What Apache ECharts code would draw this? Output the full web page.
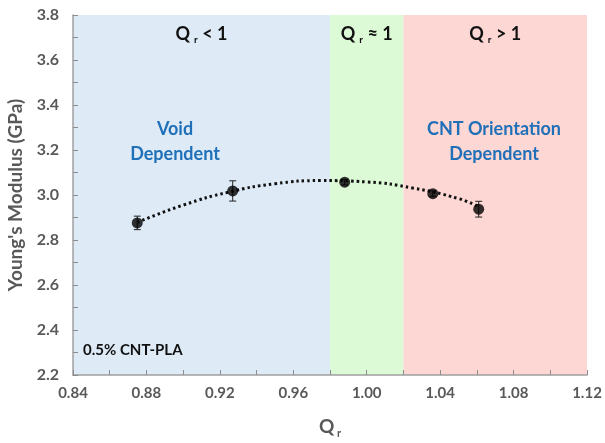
<!DOCTYPE html>
<html>
<head>
<meta charset="utf-8">
<script src="https://cdn.jsdelivr.net/npm/echarts@6/dist/echarts.min.js"></script>
<style>
  html, body { margin: 0; padding: 0; background: #fff; }
  #chart { width: 605px; height: 443px; }
</style>
</head>
<body>
<div id="chart"></div>
<script>
// measured points
const qr = [0.875, 0.927, 0.988, 1.036, 1.061];
const modulus = [2.876, 3.018, 3.057, 3.006, 2.937];
const errs = [0.03, 0.045, 0.012, 0.012, 0.035];

// dotted trend line
const trendX = [0.875, 0.90, 0.925, 0.95, 0.975, 1.00, 1.025, 1.05, 1.061];
const trendY = [2.878, 2.955, 3.013, 3.050, 3.064, 3.058, 3.031, 2.984, 2.948];

// regions along Qr
const regionEdges = [0.84, 0.98, 1.02, 1.12];
const regionColors = ['#deebf7', '#ddfad6', '#fdd7d3'];
const regionLabels = ['<', '≈', '>'];

const font = 'Lato, "Open Sans", sans-serif';
const chart = echarts.init(document.getElementById('chart'));

const regions = regionColors.map((c, i) => [
  { xAxis: regionEdges[i], itemStyle: { color: c } },
  { xAxis: regionEdges[i + 1] }
]);

chart.setOption({
  animation: false,
  grid: { left: 73, right: 18, top: 15, bottom: 68, outerBoundsMode: 'none' },
  xAxis: {
    type: 'value', min: 0.84, max: 1.12, interval: 0.04, z: 10,
    name: '{q|Q}{s| r}', nameLocation: 'middle', nameGap: 40,
    nameTextStyle: {
      rich: {
        q: { fontFamily: font, fontWeight: 'bold', fontSize: 19, color: '#595959' },
        s: { fontFamily: font, fontWeight: 'bold', fontSize: 11, color: '#595959', padding: [13, 0, 0, 0] }
      }
    },
    axisLine: { show: true, lineStyle: { color: '#a0a0a0', width: 1.5 } },
    axisTick: { show: true, inside: true, length: 5, lineStyle: { color: '#8c8c8c' } },
    minorTick: { show: true, splitNumber: 2, length: 5, lineStyle: { color: '#8c8c8c' } },
    splitLine: { show: false },
    axisLabel: {
      fontFamily: font, fontWeight: 'bold', fontSize: 15, color: '#595959', margin: 11,
      formatter: v => v.toFixed(2)
    }
  },
  yAxis: {
    type: 'value', min: 2.2, max: 3.8, interval: 0.2, z: 10,
    name: "Young's Modulus (GPa)", nameLocation: 'middle', nameGap: 46,
    nameTextStyle: { fontFamily: font, fontWeight: 'bold', fontSize: 19, color: '#595959' },
    axisLine: { show: true, lineStyle: { color: '#a0a0a0', width: 1.5 } },
    axisTick: { show: true, inside: true, length: 5, lineStyle: { color: '#8c8c8c' } },
    minorTick: { show: true, splitNumber: 2, length: 5, lineStyle: { color: '#8c8c8c' } },
    splitLine: { show: false },
    axisLabel: {
      fontFamily: font, fontWeight: 'bold', fontSize: 16, color: '#595959', margin: 14,
      formatter: v => v.toFixed(1)
    }
  },
  series: [
    {
      type: 'line', data: [], silent: true, z: 1,
      markArea: { silent: true, data: regions }
    },
    {
      type: 'line', smooth: true, symbol: 'none', z: 3,
      data: trendX.map((x, i) => [x, trendY[i]]),
      lineStyle: { color: '#111', width: 3, type: [2.5, 3] }
    },
    {
      type: 'custom', z: 4,
      data: qr.map((x, i) => [x, modulus[i] - errs[i], modulus[i] + errs[i]]),
      renderItem: (params, api) => {
        const lo = api.coord([api.value(0), api.value(1)]);
        const hi = api.coord([api.value(0), api.value(2)]);
        const w = 3.5;
        const st = { stroke: '#222', lineWidth: 1 };
        return {
          type: 'group',
          children: [
            { type: 'line', shape: { x1: lo[0], y1: lo[1], x2: hi[0], y2: hi[1] }, style: st },
            { type: 'line', shape: { x1: lo[0] - w, y1: lo[1], x2: lo[0] + w, y2: lo[1] }, style: st },
            { type: 'line', shape: { x1: hi[0] - w, y1: hi[1], x2: hi[0] + w, y2: hi[1] }, style: st }
          ]
        };
      }
    },
    {
      type: 'scatter', z: 5, symbolSize: 11,
      data: qr.map((x, i) => [x, modulus[i]]),
      itemStyle: { color: '#000' }
    }
  ]
});

// region labels, placed through the axis scale
const px = v => chart.convertToPixel({ xAxisIndex: 0, yAxisIndex: 0 }, v);
const graphics = [];
regionLabels.forEach((op, i) => {
  const c = px([(regionEdges[i] + regionEdges[i + 1]) / 2, 3.8]);
  graphics.push({
    type: 'text', x: c[0], y: 34, z: 10,
    style: {
      text: '{q|Q}{s|r}{q| ' + op + ' 1}',
      align: 'center', verticalAlign: 'middle',
      rich: {
        q: { fontFamily: font, fontWeight: 'bold', fontSize: 18, fill: '#111' },
        s: { fontFamily: font, fontWeight: 'bold', fontSize: 10, fill: '#111', padding: [11, 0, 0, 4] }
      }
    }
  });
});
graphics.push({
  type: 'text', x: 175, y: 142, z: 10,
  style: {
    text: 'Void\nDependent', align: 'center', verticalAlign: 'middle', lineHeight: 25,
    fontFamily: font, fontWeight: 'bold', fontSize: 18, fill: '#1f70b8'
  }
});
graphics.push({
  type: 'text', x: 494, y: 142, z: 10,
  style: {
    text: 'CNT Orientation\nDependent', align: 'center', verticalAlign: 'middle', lineHeight: 25,
    fontFamily: font, fontWeight: 'bold', fontSize: 18, fill: '#1f70b8'
  }
});
graphics.push({
  type: 'text', x: 83, y: 350, z: 10,
  style: {
    text: '0.5% CNT-PLA', align: 'left', verticalAlign: 'middle',
    fontFamily: font, fontWeight: 'bold', fontSize: 15, fill: '#111'
  }
});
chart.setOption({ graphic: graphics });
</script>
</body>
</html>
